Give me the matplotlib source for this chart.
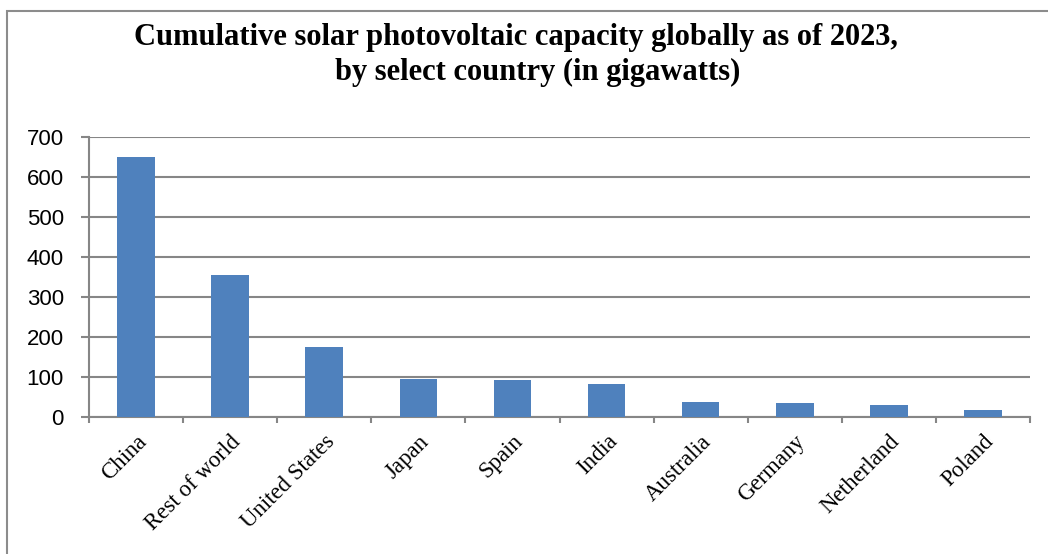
import matplotlib.pyplot as plt
from matplotlib.patches import Rectangle
import numpy as np

# solar PV capacity (GW), 2023
countries = ["China", "Rest of world", "United States", "Japan", "Spain",
             "India", "Australia", "Germany", "Netherland", "Poland"]
capacity_gw = [650, 355, 175, 95, 92, 82, 37, 35, 30, 18]
y_ticks = [0, 100, 200, 300, 400, 500, 600, 700]

BAR_COLOR = "#4F81BD"
GRID_COLOR = "#868686"
W, H = 1048, 554

fig = plt.figure(figsize=(W / 100, H / 100), dpi=100)
fig.patch.set_facecolor("white")

# outer chart frame (runs off the right and bottom edges)
fig.patches.append(Rectangle((7 / W, -0.1), 1.2, 1 - 11 / H + 0.1,
                             transform=fig.transFigure, fill=False,
                             edgecolor="#8c8c8c", linewidth=1.5))

ax = fig.add_axes([89 / W, 1 - 417 / H, (1030 - 89) / W, 280 / H])

x = np.arange(len(countries))
ax.bar(x, capacity_gw, width=0.4, color=BAR_COLOR, zorder=3)

ax.set_xlim(-0.5, len(countries) - 0.5)
ax.set_ylim(0, 700)
ax.set_yticks(y_ticks)
ax.set_yticklabels([str(v) for v in y_ticks], fontsize=16,
                   family=["Liberation Sans", "DejaVu Sans"])
ax.yaxis.grid(True, color=GRID_COLOR, linewidth=1.5, zorder=0)

# category boundaries carry the x ticks
ax.set_xticks(np.arange(len(countries) + 1) - 0.5, minor=False)
ax.set_xticklabels([])
ax.set_xticks(x, minor=True)
ax.set_xticklabels(countries, minor=True, rotation=45, ha="right",
                   va="top", rotation_mode="anchor", fontsize=16.5,
                   family=["Liberation Serif", "DejaVu Serif"])
ax.tick_params(axis="x", which="major", length=4, color=GRID_COLOR, width=1.5)
ax.tick_params(axis="x", which="minor", length=0, pad=10)
ax.tick_params(axis="y", length=6, color=GRID_COLOR, width=1.5, pad=12)

for side in ["top", "right"]:
    ax.spines[side].set_visible(False)
for side in ["left", "bottom"]:
    ax.spines[side].set_color(GRID_COLOR)
    ax.spines[side].set_linewidth(1.5)

title_font = dict(fontsize=22, fontweight="bold",
                  family=["Liberation Serif", "DejaVu Serif"])
fig.text(516 / W, 1 - 45 / H,
         "Cumulative solar photovoltaic capacity globally as of 2023,",
         ha="center", va="baseline", **title_font)
fig.text(538 / W, 1 - 80 / H, "by select country (in gigawatts)",
         ha="center", va="baseline", **title_font)

fig.savefig("out.png", dpi=100)
